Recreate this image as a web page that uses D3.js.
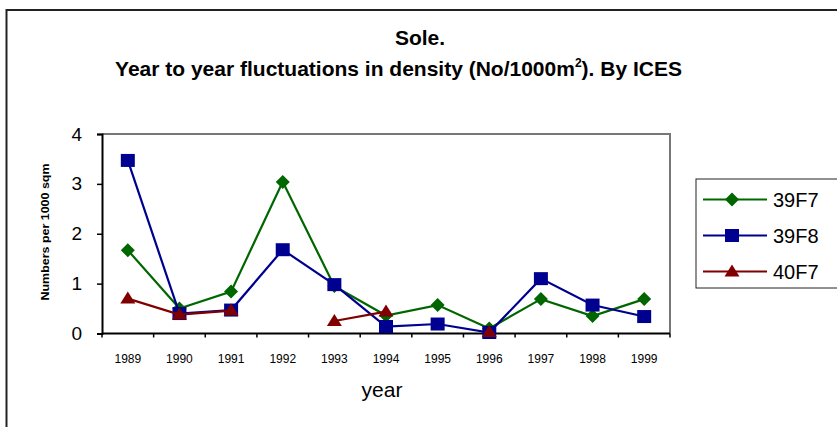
<!DOCTYPE html>
<html>
<head>
<meta charset="utf-8">
<script src="https://cdn.jsdelivr.net/npm/d3@7"></script>
<style>
  body { margin: 0; background: #fff; }
  svg { display: block; font-family: "Liberation Sans", Arial, sans-serif; }
</style>
</head>
<body>
<div id="chart"></div>
<script>
const years = ['1989', '1990', '1991', '1992', '1993', '1994', '1995', '1996', '1997', '1998', '1999'];
const values39F7 = [1.67, 0.5, 0.84, 3.04, 0.95, 0.36, 0.57, 0.1, 0.69, 0.35, 0.69];
const values39F8 = [3.47, 0.4, 0.47, 1.68, 0.98, 0.14, 0.19, 0.02, 1.1, 0.57, 0.34];
const values40F7 = [0.7, 0.38, 0.46, null, 0.25, 0.44, null, 0.03, null, null, null];
const yTicks = [0, 1, 2, 3, 4];

const series = [
  { name: '39F7', values: values39F7, color: '#006600', symbol: 'diamond' },
  { name: '39F8', values: values39F8, color: '#000090', symbol: 'square' },
  { name: '40F7', values: values40F7, color: '#800000', symbol: 'triangle' }
];

const width = 837;
const height = 427;
const plot = { left: 102, right: 670, top: 134, bottom: 333.5 };
const font = '"Liberation Sans", Arial, sans-serif';

const svg = d3.select('#chart')
  .append('svg')
  .attr('width', width)
  .attr('height', height);

// outer chart border (only top and left are in view)
svg.append('path')
  .attr('d', `M6.5,${height} V10 H${width}`)
  .attr('fill', 'none')
  .attr('stroke', '#222')
  .attr('stroke-width', 2);

// title
const title = svg.append('g')
  .attr('text-anchor', 'middle')
  .style('font-family', font)
  .style('font-weight', 'bold')
  .style('font-size', '21px');

title.append('text')
  .attr('x', 420)
  .attr('y', 45)
  .text('Sole.');

const t2 = title.append('text')
  .attr('x', 398.5)
  .attr('y', 76);
t2.append('tspan').text('Year to year fluctuations in density (No/1000m');
t2.append('tspan').attr('dy', -9).style('font-size', '12px').text('2');
t2.append('tspan').attr('dy', 9).text('). By ICES');

const x = d3.scaleBand()
  .domain(years)
  .range([plot.left, plot.right]);

const y = d3.scaleLinear()
  .domain([0, 4])
  .range([plot.bottom, plot.top]);

// plot frame: top and right in grey
svg.append('path')
  .attr('d', `M${plot.left},${plot.top} H${plot.right} V${plot.bottom}`)
  .attr('fill', 'none')
  .attr('stroke', '#777')
  .attr('stroke-width', 2);

// y axis
const gy = svg.append('g')
  .attr('transform', `translate(${plot.left},0)`)
  .call(d3.axisLeft(y).tickValues(yTicks).tickSize(5).tickPadding(15).tickFormat(d3.format('d')));
gy.select('.domain').attr('stroke', '#000').attr('stroke-width', 2);
gy.selectAll('.tick line').attr('stroke', '#000').attr('stroke-width', 1.5);
gy.selectAll('.tick text')
  .style('font-size', '19px')
  .style('font-family', font)
  .attr('fill', '#000');

// x axis: ticks on the category boundaries, labels at centres
const gx = svg.append('g')
  .attr('transform', `translate(0,${plot.bottom})`);
gx.append('line')
  .attr('x1', plot.left)
  .attr('x2', plot.right)
  .attr('stroke', '#000')
  .attr('stroke-width', 2);
gx.selectAll('line.tick')
  .data(years.concat(['end']))
  .join('line')
  .attr('class', 'tick')
  .attr('x1', (d, i) => plot.left + i * x.bandwidth())
  .attr('x2', (d, i) => plot.left + i * x.bandwidth())
  .attr('y1', 0)
  .attr('y2', 4)
  .attr('stroke', '#000')
  .attr('stroke-width', 1.5);
gx.selectAll('text')
  .data(years)
  .join('text')
  .attr('x', d => x(d) + x.bandwidth() / 2)
  .attr('y', 29)
  .attr('text-anchor', 'middle')
  .style('font-size', '12px')
  .text(d => d);

// axis titles
svg.append('text')
  .attr('x', 382)
  .attr('y', 397)
  .attr('text-anchor', 'middle')
  .style('font-size', '21px')
  .text('year');

svg.append('text')
  .attr('transform', 'translate(49,232) rotate(-90)')
  .attr('text-anchor', 'middle')
  .attr('textLength', 137)
  .attr('lengthAdjust', 'spacingAndGlyphs')
  .style('font-weight', 'bold')
  .style('font-size', '11px')
  .text('Numbers per 1000 sqm');

function symbolPath(kind) {
  if (kind === 'diamond') return 'M0,-7 L7,0 L0,7 L-7,0 Z';
  if (kind === 'square') return 'M-7,-6.5 H7 V6.5 H-7 Z';
  return 'M0,-7 L7.5,5 L-7.5,5 Z';
}

const line = d3.line()
  .defined(d => d.v != null)
  .x(d => x(d.year) + x.bandwidth() / 2)
  .y(d => y(d.v));

const gSeries = svg.append('g')
  .selectAll('g')
  .data(series)
  .join('g');

gSeries.append('path')
  .attr('fill', 'none')
  .attr('stroke', d => d.color)
  .attr('stroke-width', 2.2)
  .attr('d', d => line(years.map((yr, i) => ({ year: yr, v: d.values[i] }))));

gSeries.each(function (s) {
  d3.select(this)
    .selectAll('path.marker')
    .data(years.map((yr, i) => ({ year: yr, v: s.values[i] })).filter(d => d.v != null))
    .join('path')
    .attr('class', 'marker')
    .attr('transform', d => `translate(${x(d.year) + x.bandwidth() / 2},${y(d.v)})`)
    .attr('d', symbolPath(s.symbol))
    .attr('fill', s.color);
});

// legend
const legend = svg.append('g');
legend.append('rect')
  .attr('x', 696)
  .attr('y', 179)
  .attr('width', 150)
  .attr('height', 109)
  .attr('fill', '#fff')
  .attr('stroke', '#222')
  .attr('stroke-width', 1);

const items = legend.selectAll('g.item')
  .data(series)
  .join('g')
  .attr('class', 'item')
  .attr('transform', (d, i) => `translate(0,${199.5 + i * 36})`);

items.append('line')
  .attr('x1', 703)
  .attr('x2', 767)
  .attr('stroke', d => d.color)
  .attr('stroke-width', 2.2);

items.append('path')
  .attr('transform', 'translate(732,0)')
  .attr('d', d => symbolPath(d.symbol))
  .attr('fill', d => d.color);

items.append('text')
  .attr('x', 773)
  .attr('dy', '0.36em')
  .style('font-size', '20px')
  .text(d => d.name);
</script>
</body>
</html>
